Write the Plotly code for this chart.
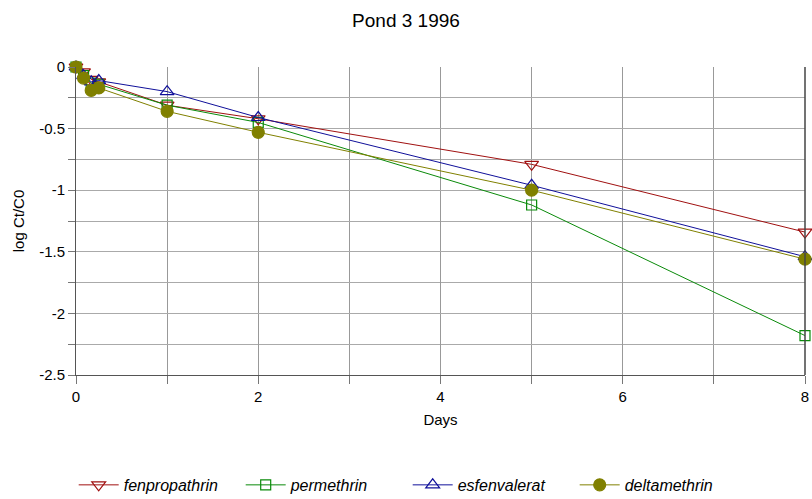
import plotly.graph_objects as go

days = [0, 0.083, 0.167, 0.25, 1, 2, 5, 8]
fenpropathrin = [0, -0.04, -0.10, -0.12, -0.31, -0.42, -0.79, -1.34]
permethrin = [0, -0.07, -0.13, -0.14, -0.31, -0.45, -1.12, -2.18]
esfenvalerat = [0, -0.07, -0.12, -0.11, -0.20, -0.41, -0.96, -1.54]
deltamethrin = [0, -0.09, -0.19, -0.17, -0.36, -0.53, -1.00, -1.56]

y_tickvals = [0, -0.5, -1, -1.5, -2, -2.5]
y_ticktext = ["0", "-0.5", "-1", "-1.5", "-2", "-2.5"]

series = [
    ("fenpropathrin", fenpropathrin, "#a01010", "triangle-down-open", 12),
    ("permethrin", permethrin, "#0a8a0a", "square-open", 10),
    ("esfenvalerat", esfenvalerat, "#10109a", "triangle-up-open", 12),
    ("deltamethrin", deltamethrin, "#808000", "circle", 12),
]

fig = go.Figure()
for name, vals, col, sym, sz in series:
    fig.add_trace(go.Scatter(
        x=days, y=vals, name=name, mode="lines+markers",
        line=dict(color=col, width=1),
        marker=dict(symbol=sym, size=sz, color=col, line=dict(color=col, width=1.2)),
        cliponaxis=False,
    ))

fig.update_layout(
    width=812, height=499,
    margin=dict(l=76, r=7, t=67, b=124, autoexpand=False),
    paper_bgcolor="white", plot_bgcolor="white",
    font=dict(family="Liberation Sans, Arial, sans-serif", size=15, color="#000"),
    title=dict(text="Pond 3 1996", x=0.5, xanchor="center", y=0.96, yanchor="middle",
               font=dict(size=19)),
    showlegend=True,
    legend=dict(orientation="h", x=0.455, xanchor="center", y=-0.357, yanchor="middle",
                font=dict(size=16, style="italic"), itemwidth=40, entrywidth=112,
                tracegroupgap=0),
)
fig.update_xaxes(
    range=[0, 8], dtick=2, tick0=0, showgrid=True, gridcolor="#999999", gridwidth=1,
    showline=True, linecolor="#555555", linewidth=1, automargin=False,
    ticks="outside", ticklen=8, tickcolor="#777777", zeroline=False,
    minor=dict(dtick=1, showgrid=True, gridcolor="#999999", ticks="outside", ticklen=8, tickcolor="#777777"),
    title=dict(text="Days", font=dict(size=15), standoff=10),
)
fig.update_yaxes(
    range=[-2.5, 0], tickvals=y_tickvals, ticktext=y_ticktext,
    showgrid=True, gridcolor="#aaaaaa", gridwidth=1,
    showline=True, linecolor="#555555", linewidth=1, automargin=False,
    ticks="outside", ticklen=7, tickcolor="#777777", zeroline=False,
    minor=dict(dtick=0.25, tick0=0, showgrid=True, gridcolor="#aaaaaa", ticks="outside", ticklen=7, tickcolor="#777777"),
    title=dict(text="log Ct/C0", font=dict(size=15), standoff=10),
)
fig.add_shape(type="line", xref="paper", yref="paper", x0=1, x1=1, y0=0, y1=1,
              line=dict(color="#444444", width=1.5))

fig.write_html("out.html")
